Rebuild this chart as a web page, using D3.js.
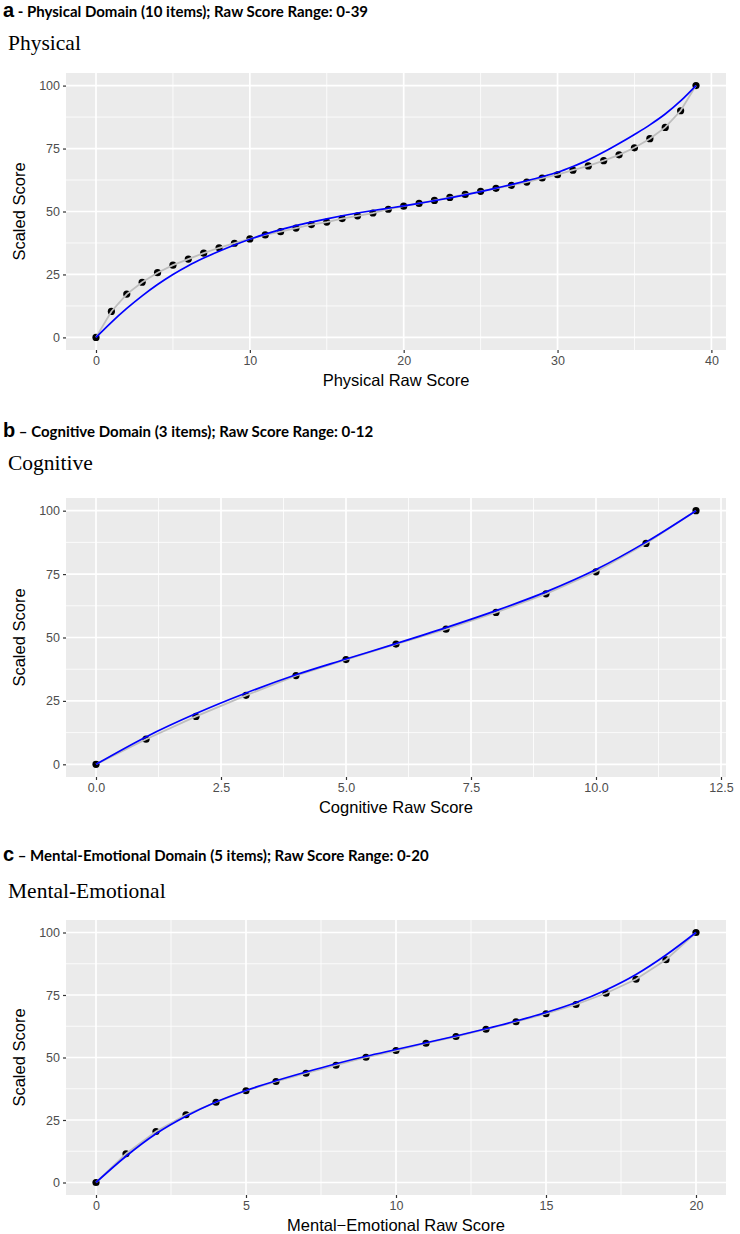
<!DOCTYPE html>
<html><head><meta charset="utf-8">
<script src="https://cdn.jsdelivr.net/npm/d3@7"></script>
<style>body{margin:0;background:#fff}</style></head>
<body>
<svg id="chart" width="740" height="1234"></svg>
<script>
// ---------- data ----------
const physicalRaw = [0,1,2,3,4,5,6,7,8,9,10,11,12,13,14,15,16,17,18,19,20,21,22,23,24,25,26,27,28,29,30,31,32,33,34,35,36,37,38,39];
const physicalScaled = [0,10.3,17.2,21.9,25.7,28.7,31.1,33.5,35.6,37.4,39.1,40.7,42.0,43.4,44.8,45.8,47.2,48.3,49.4,50.9,52.1,53.2,54.4,55.6,56.8,58.0,59.2,60.4,61.7,63.3,64.6,66.4,68.1,70.2,72.5,75.3,78.9,83.4,90.0,100];
const physicalFit = [0,6,11.5,16.5,21,25,28.5,31.5,34.2,36.7,39,41,42.8,44.4,45.8,47.1,48.3,49.4,50.4,51.3,52.2,53.2,54.3,55.4,56.6,57.9,59.3,60.7,62.2,63.8,65.6,67.9,70.5,73.6,77,80.6,84.4,88.7,93.9,100];
const physicalTicks = [0,10,20,30,40];

const cognitiveRaw = [0,1,2,3,4,5,6,7,8,9,10,11,12];
const cognitiveScaled = [0,9.9,18.9,27.2,35.0,41.3,47.4,53.3,59.9,67.2,75.9,87.1,100];
const cognitiveFit = [0,10.8,20,28.1,35.3,41.5,47.6,53.9,60.6,68,76.8,87.6,100];
const cognitiveTicks = [0,2.5,5,7.5,10,12.5];

const mentalRaw = [0,1,2,3,4,5,6,7,8,9,10,11,12,13,14,15,16,17,18,19,20];
const mentalScaled = [0,11.5,20.4,27.1,32.1,36.7,40.4,43.7,46.9,50.1,52.8,55.7,58.4,61.3,64.3,67.5,71.2,75.7,81.3,89.1,100];
const mentalFit = [0,10.5,19.5,26.5,32.2,36.8,40.7,44.2,47.5,50.5,53.2,55.9,58.6,61.5,64.6,68,72,77,83.2,91,100];
const mentalTicks = [0,5,10,15,20];

const yTicks = [0,25,50,75,100];
const yMinor = [12.5,37.5,62.5,87.5];

// ---------- panel configs ----------
const panels = [
  {letter:"a", header:" - Physical Domain (10 items); Raw Score Range: 0-39", title:"Physical",
   xlab:"Physical Raw Score", raw:physicalRaw, scaled:physicalScaled, fit:physicalFit,
   xmax:39, ticks:physicalTicks, fmt:d3.format("d"), headerY:17, titleY:50, top:73, bottom:350},
  {letter:"b", header:" \u2013 Cognitive Domain (3 items); Raw Score Range: 0-12", title:"Cognitive",
   xlab:"Cognitive Raw Score", raw:cognitiveRaw, scaled:cognitiveScaled, fit:cognitiveFit,
   xmax:12, ticks:cognitiveTicks, fmt:d3.format(".1f"), headerY:437, titleY:470, top:498, bottom:777},
  {letter:"c", header:" \u2013 Mental-Emotional Domain (5 items); Raw Score Range: 0-20", title:"Mental-Emotional",
   xlab:"Mental\u2212Emotional Raw Score", raw:mentalRaw, scaled:mentalScaled, fit:mentalFit,
   xmax:20, ticks:mentalTicks, fmt:d3.format("d"), headerY:861, titleY:898, top:920, bottom:1195}
];

const svg = d3.select("#chart");
const left = 66, right = 726;
const sans = "'Liberation Sans', Arial, sans-serif";

panels.forEach(p => {
  const g = svg.append("g");
  const pad = p.xmax * 0.05;
  const x = d3.scaleLinear().domain([-pad, p.xmax + pad]).range([left, right]);
  const y = d3.scaleLinear().domain([-5, 105]).range([p.bottom, p.top]);

  // header
  const h = g.append("text").attr("x", 3).attr("y", p.headerY)
    .attr("font-family", "Lato, 'Open Sans', sans-serif").attr("font-weight", "bold").attr("fill", "#000");
  h.append("tspan").attr("font-size", 20).attr("font-family", sans).text(p.letter);
  h.append("tspan").attr("font-size", 15).text(p.header);

  // serif title
  g.append("text").attr("x", 8).attr("y", p.titleY)
    .attr("font-family", "'Liberation Serif', 'DejaVu Serif', serif").attr("font-size", 21.5)
    .attr("fill", "#000").text(p.title);

  // panel background
  g.append("rect").attr("x", left).attr("y", p.top).attr("width", right - left).attr("height", p.bottom - p.top)
    .attr("fill", "#ebebeb");

  // minor grid
  const step = p.ticks[1] - p.ticks[0];
  const xMinor = p.ticks.slice(0, -1).map(t => t + step / 2).filter(v => v > -pad && v < p.xmax + pad);
  g.selectAll(null).data(yMinor).join("line")
    .attr("x1", left).attr("x2", right).attr("y1", d => y(d)).attr("y2", d => y(d))
    .attr("stroke", "#fff").attr("stroke-width", 0.8);
  g.selectAll(null).data(xMinor).join("line")
    .attr("y1", p.top).attr("y2", p.bottom).attr("x1", d => x(d)).attr("x2", d => x(d))
    .attr("stroke", "#fff").attr("stroke-width", 0.8);
  // major grid
  g.selectAll(null).data(yTicks).join("line")
    .attr("x1", left).attr("x2", right).attr("y1", d => y(d)).attr("y2", d => y(d))
    .attr("stroke", "#fff").attr("stroke-width", 1.7);
  g.selectAll(null).data(p.ticks.filter(v => v <= p.xmax + pad)).join("line")
    .attr("y1", p.top).attr("y2", p.bottom).attr("x1", d => x(d)).attr("x2", d => x(d))
    .attr("stroke", "#fff").attr("stroke-width", 1.7);

  // axes
  const yAxis = d3.axisLeft(y).tickValues(yTicks).tickSize(3).tickPadding(3).tickFormat(d3.format("d"));
  const ya = g.append("g").attr("transform", `translate(${left},0)`).call(yAxis);
  const xAxis = d3.axisBottom(x).tickValues(p.ticks).tickSize(3).tickPadding(3).tickFormat(p.fmt);
  const xa = g.append("g").attr("transform", `translate(0,${p.bottom})`).call(xAxis);
  [ya, xa].forEach(a => {
    a.select(".domain").remove();
    a.selectAll(".tick line").attr("stroke", "#333").attr("stroke-width", 1.2);
    a.selectAll(".tick text").attr("fill", "#4d4d4d").attr("font-size", 12.5).attr("font-family", sans);
  });

  // axis titles
  g.append("text").attr("x", (left + right) / 2).attr("y", p.bottom + 36)
    .attr("text-anchor", "middle").attr("font-size", 16.5)
    .attr("font-family", sans).attr("fill", "#000").text(p.xlab);
  g.append("text").attr("transform", `translate(25,${(p.top + p.bottom) / 2}) rotate(-90)`)
    .attr("text-anchor", "middle").attr("font-size", 16.5)
    .attr("font-family", sans).attr("fill", "#000").text("Scaled Score");

  const pts = p.raw.map((r, i) => ({r, s: p.scaled[i], f: p.fit[i]}));

  // points
  g.selectAll(null).data(pts).join("circle")
    .attr("cx", d => x(d.r)).attr("cy", d => y(d.s)).attr("r", 3.6).attr("fill", "#000");
  // gray line through points
  g.append("path").datum(pts)
    .attr("d", d3.line().x(d => x(d.r)).y(d => y(d.s)))
    .attr("fill", "none").attr("stroke", "#bebebe").attr("stroke-width", 1.8);
  // blue fitted curve
  g.append("path").datum(pts)
    .attr("d", d3.line().curve(d3.curveMonotoneX).x(d => x(d.r)).y(d => y(d.f)))
    .attr("fill", "none").attr("stroke", "#0000ff").attr("stroke-width", 1.7);
});
</script>
</body></html>
